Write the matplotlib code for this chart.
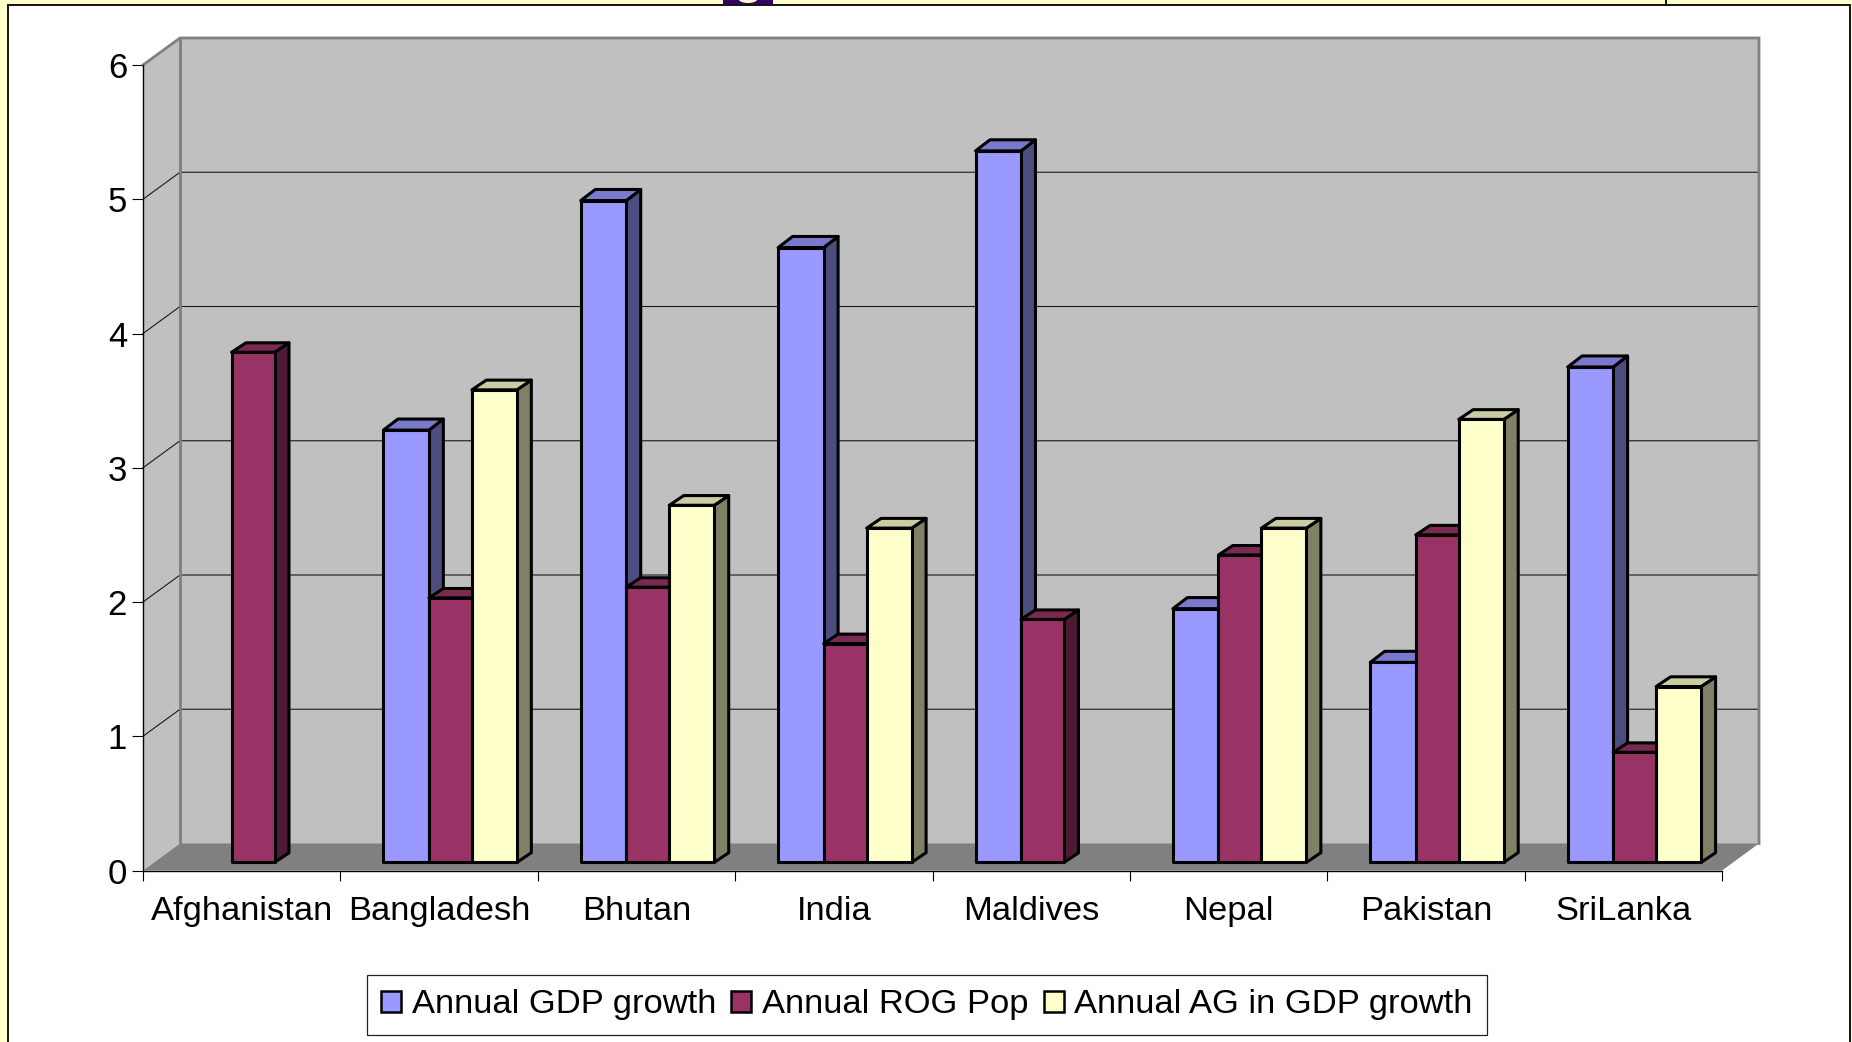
import matplotlib
matplotlib.use('Agg')
import matplotlib.pyplot as plt
from matplotlib.patches import Polygon, Rectangle, Ellipse, Patch

plt.rcParams['font.family'] = ['Liberation Sans', 'DejaVu Sans']

countries = ['Afghanistan', 'Bangladesh', 'Bhutan', 'India', 'Maldives', 'Nepal', 'Pakistan', 'SriLanka']
gdp_growth = [None, 3.22, 4.93, 4.58, 5.30, 1.89, 1.49, 3.69]
pop_growth = [3.80, 1.97, 2.05, 1.63, 1.81, 2.29, 2.44, 0.82]
ag_growth = [None, 3.52, 2.66, 2.49, None, 2.49, 3.30, 1.31]
y_ticks = [0, 1, 2, 3, 4, 5, 6]

W, H = 1852, 1042
fig = plt.figure(figsize=(W / 100, H / 100), dpi=100, facecolor='#FFFFCC')

# slide background, in pixels
bg = fig.add_axes([0, 0, 1, 1])
bg.set_xlim(0, W)
bg.set_ylim(H, 0)
bg.axis('off')
bg.add_patch(Rectangle((723, -2), 50, 6, fc='#330066', ec='none'))
bg.add_patch(Ellipse((748, -1), 19, 8, fc='#FFFFCC', ec='none'))
bg.add_patch(Rectangle((7.5, 4.5), 1842, 1100, fc='white', ec='black', lw=1.3))
bg.plot([1666, 1666], [0, 4], color='black', lw=1.3)

# front plane of the chart
x0, x1, y0, y6 = 143, 1722, 870.5, 65
ax = fig.add_axes([x0 / W, 1 - y0 / H, (x1 - x0) / W, (y0 - y6) / H])
ax.set_xlim(0, 8)
ax.set_ylim(0, 6)
ax.patch.set_alpha(0)

# oblique projection: depth 1 is the back wall
cat_px = (x1 - x0) / 8
depth_x = 37 / cat_px
depth_y = 27 / ((y0 - y6) / 6)


def project(x, v, d, dy=None):
    return (x + d * depth_x, v + (d if dy is None else dy) * depth_y)


def face(points, color, z, **kw):
    ax.add_patch(Polygon(points, closed=True, fc=color, zorder=z, clip_on=False, **kw))


# walls and floor
wall_grey = '#C0C0C0'
edge_grey = '#808080'
face([project(0, 0, 0), project(0, 6, 0), project(0, 6, 1), project(0, 0, 1)], wall_grey, 1, ec='none')
face([project(0, 0, 1), project(0, 6, 1), project(8, 6, 1), project(8, 0, 1)], wall_grey, 1, ec='none')
face([project(0, 0, 0), project(0, 0, 1), project(8, 0, 1), project(8, 0, 0)], edge_grey, 1, ec='none')

for v in y_ticks[1:-1]:
    a, b, c = project(0, v, 0), project(0, v, 1), project(8, v, 1)
    ax.plot([a[0], b[0], c[0]], [a[1], b[1], c[1]], color='#1a1a1a', lw=0.8, zorder=2, clip_on=False)

# wall edges
a, b, c, d = project(0, 6, 0), project(0, 6, 1), project(8, 6, 1), project(8, 0, 1)
ax.plot([a[0], b[0], c[0], d[0]], [a[1], b[1], c[1], d[1]], color=edge_grey, lw=2, zorder=2,
        clip_on=False, solid_joinstyle='miter')
a, b = project(0, 0, 1), project(0, 6, 1)
ax.plot([a[0], b[0]], [a[1], b[1]], color=edge_grey, lw=2, zorder=2, clip_on=False)

# bars: values, front, top, side, label, width in px, rise of the top face
series = [
    (gdp_growth, '#9999FF', '#7A7ACC', '#4D4D80', 'Annual GDP growth', 45.5, 0.71),
    (pop_growth, '#993366', '#7A2952', '#4D1A33', 'Annual ROG Pop', 43, 0.65),
    (ag_growth, '#FFFFCC', '#CCCCA3', '#808066', 'Annual AG in GDP growth', 45, 0.66),
]
gap = (cat_px - sum(s[5] for s in series)) / 2 / cat_px
d_front, d_back = 0.30, 0.69
bar_style = dict(ec='black', lw=2.2, joinstyle='round')

z = 3
for k in range(len(countries)):
    left = k + gap
    for values, front, top, side, _, width, rise in series:
        right = left + width / cat_px
        v = values[k]
        if v is not None:
            face([project(right, 0, d_front), project(right, 0, d_back, rise), project(right, v, d_back, rise),
                  project(right, v, d_front)], side, z, **bar_style)
            face([project(left, v, d_front), project(left, v, d_back, rise), project(right, v, d_back, rise),
                  project(right, v, d_front)], top, z, **bar_style)
            face([project(left, 0, d_front), project(left, v, d_front), project(right, v, d_front),
                  project(right, 0, d_front)], front, z, **bar_style)
            z += 1
        left = right

# axes
for name in ['top', 'right']:
    ax.spines[name].set_visible(False)
for name in ['left', 'bottom']:
    ax.spines[name].set_linewidth(1)
    ax.spines[name].set_zorder(50)
ax.set_yticks(y_ticks)
ax.set_yticklabels([str(t) for t in y_ticks], fontsize=25)
ax.tick_params(axis='y', length=8, width=0.8, pad=3.5)
ax.set_xticks(range(len(countries) + 1))
ax.set_xticklabels([])
ax.set_xticks([k + 0.5 for k in range(len(countries))], minor=True)
ax.set_xticklabels(countries, minor=True, fontsize=24.8)
ax.tick_params(axis='x', which='major', length=7.5, width=0.8)
ax.tick_params(axis='x', which='minor', length=0, pad=18.3)

handles = [Patch(fc=s[1], ec='black', lw=1.8, label=s[4]) for s in series]
leg = fig.legend(handles=handles, loc='center', bbox_to_anchor=(927 / W, 1 - 1005 / H), ncol=3,
                 fontsize=24.8, frameon=True, fancybox=False, edgecolor='#222222', framealpha=1,
                 handlelength=0.58, handleheight=0.58, handletextpad=0.31, columnspacing=0.44,
                 borderpad=0.42, borderaxespad=0)
leg.get_frame().set_linewidth(0.9)

fig.savefig('out.png', dpi=100, facecolor=fig.get_facecolor())
